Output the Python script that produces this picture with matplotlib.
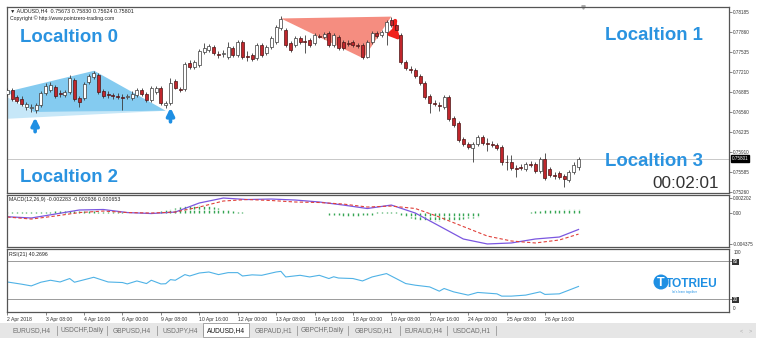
import matplotlib
matplotlib.use('Agg')
import matplotlib.pyplot as plt
import matplotlib.transforms as mtransforms
from matplotlib.patches import Polygon, Rectangle, Ellipse
import numpy as np

plt.rcParams['font.family'] = ['Liberation Sans', 'DejaVu Sans']

# ---------------- data ----------------
opens = [.7685,.7692,.7680,.7677,.7664,.7663,.7659,.7667,.7687,.7692,
         .7697,.7687,.7684,.7689,.7708,.7679,.7679,.7705,.7713,.7716,
         .7690,.7685,.7684,.7682,.7680,.7680,.7679,.7684,.7692,.7685,
         .7676,.7689,.7695,.7667,.7671,.7706,.7693,.7693,.7736,.7729,
         .7732,.7754,.7757,.7762,.7750,.7750,.7745,.7760,.7749,.7770,
         .7747,.7749,.7744,.7765,.7752,.7762,.7770,.7793,.7789,.7768,
         .7765,.7776,.7771,.7773,.7768,.7780,.7778,.7784,.7765,.7778,
         .7770,.7768,.7770,.7765,.7765,.7745,.7770,.7784,.7781,.7786,
         .7806,.7797,.7781,.7737,.7726,.7724,.7715,.7703,.7682,.7671,
         .7667,.7664,.7680,.7646,.7638,.7612,.7604,.7598,.7604,.7616,
         .7606,.7604,.7603,.7599,.7575,.7575,.7565,.7567,.7564,.7572,
         .7572,.7560,.7580,.7564,.7554,.7557,.7552,.7545,.7559,.75673]
closes = [.7692,.7677,.7674,.7669,.7669,.7664,.7667,.7687,.7698,.7700,
          .7682,.7685,.7689,.7711,.7677,.7672,.7702,.7715,.7719,.7689,
          .7682,.7684,.7682,.7680,.7679,.7682,.7685,.7692,.7685,.7676,
          .7695,.7695,.7671,.7671,.7703,.7695,.7692,.7734,.7729,.7737,
          .7755,.7760,.7763,.7752,.7749,.7752,.7762,.7749,.7770,.7745,
          .7745,.7742,.7765,.7749,.7762,.7776,.7794,.7807,.7765,.7757,
          .7776,.7770,.7770,.7765,.7781,.7778,.7783,.7765,.7781,.7760,
          .7760,.7767,.7765,.7763,.7745,.7770,.7784,.7780,.7786,.7802,
          .7797,.7789,.7737,.7728,.7724,.7715,.7703,.7680,.7671,.7669,
          .7666,.7680,.7645,.7635,.7611,.7604,.7599,.7604,.7616,.7606,
          .7604,.7603,.7598,.7574,.7574,.7565,.7564,.7565,.7572,.7570,
          .7560,.7580,.7549,.7554,.7552,.7550,.7547,.7559,.7570,.75801]
highs = [.7695,.7695,.7684,.7682,.7672,.7669,.7671,.7690,.7703,.7705,
         .7700,.7692,.7692,.7716,.7711,.7682,.7705,.7718,.7723,.7719,
         .7693,.7690,.7687,.7687,.7685,.7685,.7690,.7695,.7695,.7689,
         .7698,.7698,.7698,.7674,.7711,.7710,.7697,.7737,.7741,.7741,
         .7758,.7768,.7767,.7765,.7755,.7757,.7770,.7763,.7773,.7773,
         .7755,.7752,.7768,.7768,.7765,.7780,.7797,.7812,.7793,.7771,
         .7780,.7780,.7781,.7776,.7784,.7783,.7786,.7788,.7784,.7781,
         .7773,.7773,.7773,.7768,.7768,.7773,.7788,.7788,.7789,.7806,
         .7810,.7801,.7784,.7741,.7731,.7728,.7718,.7706,.7685,.7676,
         .7672,.7684,.7684,.7650,.7641,.7616,.7607,.7607,.7619,.7619,
         .7614,.7609,.7606,.7603,.7586,.7586,.7570,.7572,.7575,.7577,
         .7575,.7583,.7589,.7567,.7559,.7560,.7555,.7562,.7574,.75830]
lows = [.7682,.7674,.7671,.7666,.7659,.7656,.7654,.7664,.7684,.7689,
        .7679,.7680,.7680,.7685,.7674,.7664,.7676,.7702,.7710,.7685,
        .7679,.7679,.7677,.7677,.7659,.7677,.7676,.7680,.7682,.7672,
        .7672,.7685,.7667,.7663,.7667,.7693,.7689,.7690,.7726,.7726,
        .7729,.7750,.7754,.7749,.7744,.7745,.7742,.7745,.7745,.7742,
        .7739,.7739,.7741,.7745,.7749,.7758,.7767,.7789,.7762,.7754,
        .7762,.7767,.7752,.7762,.7765,.7776,.7775,.7762,.7762,.7757,
        .7757,.7763,.7762,.7760,.7742,.7744,.7767,.7776,.7778,.7765,
        .7794,.7786,.7734,.7724,.7719,.7711,.7700,.7677,.7654,.7666,
        .7658,.7661,.7641,.7632,.7607,.7601,.7596,.7575,.7601,.7603,
        .7593,.7599,.7594,.7570,.7562,.7562,.7550,.7562,.7560,.7567,
        .7557,.7557,.7545,.7550,.7547,.7547,.7534,.7542,.7555,.75624]

price_ticks = [0.78185, 0.77860, 0.77535, 0.77210, 0.76885, 0.76560,
               0.76235, 0.75910, 0.75585, 0.75260]
last_price = 0.75801

macd_idx = [0,5,10,15,20,25,30,35,40,45,50,55,60,65,70,75,80,85,90,95,100,105,110,115,119]
macd_main = [-0.00048,-0.00066,-0.00010,0.00047,0.00054,0.00011,-0.00003,0.00018,0.00146,
             0.00216,0.00195,0.00202,0.00188,0.00160,0.00117,0.00068,0.00117,0.00004,
             -0.00179,-0.00363,-0.00433,-0.00419,-0.00363,-0.00335,-0.002283]
macd_signal = [-0.00052,-0.00081,-0.00038,0.00011,0.00032,0.00011,0.00004,0.00018,0.00089,
               0.00174,0.00195,0.00181,0.00160,0.00153,0.00131,0.00089,0.00103,0.00068,
               -0.00052,-0.00187,-0.00321,-0.00391,-0.00419,-0.00377,-0.002936]
macd_hist = [0.0002,0.0002,0.0002,0.0002,0.0002,0.0002,0.0002,0.0002,0.0002,0.0002,
             0.0003,0.0003,0.0003,0.0003,0.0003,0.0003,0.0003,0.0003,0.0003,
             0.0002,0.0002,0.0002,0.0002,0.0002,0.0002,
             0.0001,0.0001,0.0001,0.0001,0.0001,0.0001,0.0001,
             0.0003,0.0004,0.0006,0.0008,
             0.0009,0.0010,0.0011,0.0012,0.0012,0.0011,0.0010,0.0009,0.0007,
             0.0005,0.0004,0.0003,0.0002,0.0002,
             0.0001,0.0001,0.0001,0.0001,0.0001,0.0001,0.0001,0.0001,0.0001,
             0.0001,0.0001,0.0001,0.0001,0.0001,0.0001,0.0001,0.0001,
             -0.0002,-0.0003,-0.0003,-0.0004,-0.0004,-0.0004,-0.0004,-0.0003,-0.0003,-0.0002,
             0.0002,0.0002,0.0002,0.0002,0.0002,
             -0.0002,-0.0004,
             -0.0006,-0.0008,-0.0009,-0.0010,-0.0011,-0.0011,-0.0011,-0.0010,
             -0.0010,-0.0009,-0.0009,-0.0008,-0.0007,-0.0006,-0.0005,
             0.0001,0.0001,0.0001,0.0001,0.0001,0.0001,0.0001,0.0001,
             0.0,0.0,
             0.0002,0.0003,0.0003,0.0004,0.0004,0.0005,0.0005,0.0006,0.00062,0.00064,0.000653]

rsi_idx = [0,3,5,7,9,11,13,14,17,18,21,24,25,27,29,30,32,33,34,35,37,38,40,42,44,46,48,49,
           51,53,56,57,58,61,63,65,67,68,69,72,74,76,79,81,83,85,88,90,91,93,96,98,102,103,
           105,108,111,112,115,117,119]
rsi_vals = [47.3,43.8,41.1,46.9,50.0,47.3,52.7,46.9,52.7,54.7,47.3,46.4,44.2,48.9,44.8,50.0,
            44.2,44.5,51.0,50.0,58.9,56.7,61.4,63.0,58.9,62.0,62.0,56.7,58.5,57.8,63.0,64.0,
            55.2,57.8,55.2,57.8,52.7,55.5,53.5,52.7,48.9,55.2,60.5,52.7,44.8,42.2,39.5,32.8,
            37.0,31.7,26.6,30.8,28.6,25.0,25.0,26.6,31.7,27.7,28.6,34.4,40.27]

date_idx = [0, 8, 16, 24, 32, 40, 48, 56, 64, 72, 80, 88, 96, 104, 112]
date_labels = ['2 Apr 2018', '3 Apr 08:00', '4 Apr 16:00', '6 Apr 00:00', '9 Apr 08:00',
               '10 Apr 16:00', '12 Apr 00:00', '13 Apr 08:00', '16 Apr 16:00', '18 Apr 00:00',
               '19 Apr 08:00', '20 Apr 16:00', '24 Apr 00:00', '25 Apr 08:00', '26 Apr 16:00']

# pattern drawings (bar index, price)
blue_x = [0, 18.1, 33, 5.5]
blue_p = [0.7689, 0.7723, 0.7658, 0.7656]
blue2_x = [0, 5.5, 33, 0]
blue2_p = [0.7680, 0.7656, 0.7658, 0.7645]
red_x = [57, 80, 74.2]
red_p = [0.7808, 0.7811, 0.7743]

tab_names = ['EURUSD,H4', 'USDCHF,Daily', 'GBPUSD,H4', 'USDJPY,H4', 'AUDUSD,H4',
             'GBPAUD,H1', 'GBPCHF,Daily', 'GBPUSD,H1', 'EURAUD,H4', 'USDCAD,H1']
active_tab = 'AUDUSD,H4'

# ---------------- figure ----------------
W, H = 774, 344
fig = plt.figure(figsize=(W / 100, H / 100), dpi=100)
fig.patch.set_facecolor('white')


def rect(x0, y0, x1, y1):
    return [x0 / W, 1 - y1 / H, (x1 - x0) / W, (y1 - y0) / H]


XLIM = (-0.06, 150.35)
SP = '#555555'


def style(ax):
    for s in ax.spines.values():
        s.set_color(SP)
        s.set_linewidth(0.9)
    ax.set_xlim(*XLIM)
    ax.yaxis.tick_right()
    ax.tick_params(axis='y', direction='out', length=2, width=0.5, color=SP,
                   labelsize=3.3, labelcolor='#333333', pad=1)
    ax.set_facecolor('white')


# main price panel
ax = fig.add_axes(rect(7, 7, 729, 193))
style(ax)
ax.set_ylim(0.75244, 0.78266)
ax.set_xticks([])
ax.set_yticks(price_ticks)
ax.set_yticklabels(['%.5f' % v for v in price_ticks])

o = np.array(opens); c = np.array(closes); hi = np.array(highs); lo = np.array(lows)
idx = np.arange(len(o))

ax.add_patch(Polygon(list(zip(blue2_x, blue2_p)), closed=True, fc='#c6e7f8', ec='none', zorder=1))
ax.add_patch(Polygon(list(zip(blue_x, blue_p)), closed=True, fc='#84cbf0', ec='none', zorder=1.1))
ax.add_patch(Polygon(list(zip(red_x, red_p)), closed=True, fc='#f58d80', ec='none', zorder=1))

ax.axhline(last_price, color='#c8c8c8', lw=0.7, zorder=0.5)

ax.vlines(idx, lo, hi, color='#3a3a3a', lw=0.6, zorder=3)
bull = c >= o
bear = ~bull
ax.bar(idx[bull], c[bull] - o[bull], bottom=o[bull], width=0.62, color='white',
       edgecolor='#3a3a3a', linewidth=0.5, zorder=4)
ax.bar(idx[bear], c[bear] - o[bear], bottom=o[bear], width=0.62, color='#c0262c',
       edgecolor='#4a1515', linewidth=0.5, zorder=4)

# arrows
arrow_blue = dict(arrowstyle='-|>', color='#1e8fe3', lw=2.6, mutation_scale=11,
                  shrinkA=0, shrinkB=0)
a1 = ax.annotate('', xy=(5.8, 0.7647), xytext=(5.8, 0.7624), arrowprops=arrow_blue)
a2 = ax.annotate('', xy=(34, 0.7663), xytext=(34, 0.7640), arrowprops=arrow_blue)
a3 = ax.annotate('', xy=(82.0, 0.7772), xytext=(80.8, 0.7804),
                 arrowprops=dict(arrowstyle='-|>', color='#f0201a', lw=3.0, mutation_scale=14,
                                 shrinkA=0, shrinkB=0, connectionstyle='arc3,rad=0.25'))
for a in (a1, a2, a3):
    a.arrow_patch.set_zorder(7)

ax.text(1.004, last_price, '%.5f' % last_price, transform=mtransforms.blended_transform_factory(
    ax.transAxes, ax.transData), fontsize=3.3, color='white', va='center', ha='left',
    bbox=dict(fc='black', ec='black', pad=0.6), clip_on=False)

ax.plot([119.9], [1.0], marker='v', color='#aaaaaa', markersize=2.5, clip_on=False,
        transform=mtransforms.blended_transform_factory(ax.transData, ax.transAxes))

# header texts
fig.text(10 / W, 1 - 11 / H, '\u25bc AUDUSD,H4  0.75673 0.75830 0.75624 0.75801',
         fontsize=3.9, color='#222222', va='center', ha='left')
fig.text(10 / W, 1 - 18 / H, 'Copyright \u00a9 http://www.pointzero-trading.com',
         fontsize=3.7, color='#222222', va='center', ha='left')

blue_txt = '#2a93e0'
for (tx, ty, s) in [(20, 41.5, 'Localtion 0'), (605, 40, 'Localtion 1'),
                    (20, 181.5, 'Localtion 2'), (605, 165.5, 'Localtion 3')]:
    fig.text(tx / W, 1 - ty / H, s, fontsize=13.4, fontweight='bold', color=blue_txt,
             va='baseline', ha='left')
fig.text(652 / W, 1 - 188.3 / H, '00:02:01', fontsize=12.3, color='#333333',
         va='baseline', ha='left')

# MACD panel
ax2 = fig.add_axes(rect(7, 195, 729, 247))
style(ax2)
ax2.set_ylim(-0.00476, 0.00259)
ax2.set_xticks([])
ax2.set_yticks([0.002202, 0.0, -0.004375])
ax2.set_yticklabels(['0.002202', '0.00', '-0.004375'])
ax2.vlines(idx, 0, macd_hist, colors='#35a552', lw=1.0, linestyles=(0, (2.0, 0.8)))
ax2.plot(macd_idx, macd_main, color='#7b57e0', lw=0.9)
ax2.plot(macd_idx, macd_signal, color='#e0403a', lw=0.8, ls=(0, (3, 2)))
ax2.text(0.003, 0.92, 'MACD(12,26,9) -0.002283 -0.002936 0.000653', transform=ax2.transAxes,
         fontsize=3.8, va='center', ha='left', color='#222222')

# RSI panel
ax3 = fig.add_axes(rect(7, 248.5, 729, 312))
style(ax3)
ax3.set_ylim(0, 100)
ax3.axhline(80, color='#9a9a9a', lw=0.7)
ax3.axhline(20, color='#9a9a9a', lw=0.7)
ax3.plot(rsi_idx, rsi_vals, color='#4fb2e6', lw=0.8)
ax3.text(0.003, 0.91, 'RSI(21) 40.2696', transform=ax3.transAxes,
         fontsize=3.8, va='center', ha='left', color='#222222')
ax3.set_yticks([80, 20])
ax3.set_yticklabels(['80', '20'])
for lbl in ax3.get_yticklabels():
    lbl.set_color('white')
    lbl.set_bbox(dict(fc='#333333', ec='none', pad=0.5))
bt = mtransforms.blended_transform_factory(ax3.transAxes, ax3.transData)
ax3.text(1.006, 94, '100', transform=bt, fontsize=3.3, color='#333333', va='center',
         ha='left', clip_on=False)
ax3.text(1.006, 5, '0', transform=bt, fontsize=3.3, color='#333333', va='center',
         ha='left', clip_on=False)
ax3.set_xticks(date_idx)
ax3.set_xticklabels(date_labels)
ax3.tick_params(axis='x', direction='out', length=2, width=0.5, color=SP,
                labelsize=3.7, labelcolor='#333333', pad=1.5)
for lbl in ax3.get_xticklabels():
    lbl.set_ha('left')

# logo
fig.add_artist(Ellipse((661 / W, 1 - 282 / H), 15 / W, 15 / H, transform=fig.transFigure,
                       fc='#1e8fe3', ec='none'))
fig.text(661 / W, 1 - 282.5 / H, 'T', fontsize=9, fontweight='bold', color='white',
         ha='center', va='center')
fig.text(666 / W, 1 - 287 / H, 'TOTRIEU', fontsize=8.6, fontweight='bold', color='#1e8fe3',
         family=['Liberation Sans Narrow', 'Liberation Sans', 'DejaVu Sans'],
         ha='left', va='baseline')
fig.text(672 / W, 1 - 291.5 / H, "let's learn together", fontsize=2.2, color='#1e8fe3',
         ha='left', va='center')

# tab bar
axt = fig.add_axes(rect(0, 323, 756, 338))
axt.set_xlim(0, 756)
axt.set_ylim(15, 0)
axt.set_facecolor('#e6e6e6')
for s in axt.spines.values():
    s.set_visible(False)
axt.set_xticks([]); axt.set_yticks([])
bounds = [7, 57, 107, 157, 203, 249, 297, 348, 400, 447, 496]
for k, name in enumerate(tab_names):
    x0, x1 = bounds[k], bounds[k + 1]
    if name == active_tab:
        axt.add_patch(Rectangle((x0, 0), x1 - x0, 14, fc='white', ec='#999999', lw=0.6))
        col = '#111111'
    else:
        col = '#707070'
        axt.plot([x1, x1], [3, 12], color='#999999', lw=0.6)
    axt.text((x0 + x1) / 2, 8, name, fontsize=4.8, color=col, ha='center', va='center')
axt.text(741, 8, '<', fontsize=4, color='#aaaaaa', ha='center', va='center')
axt.text(750, 8, '>', fontsize=4, color='#aaaaaa', ha='center', va='center')

fig.savefig('out.png', dpi=100, facecolor='white')
